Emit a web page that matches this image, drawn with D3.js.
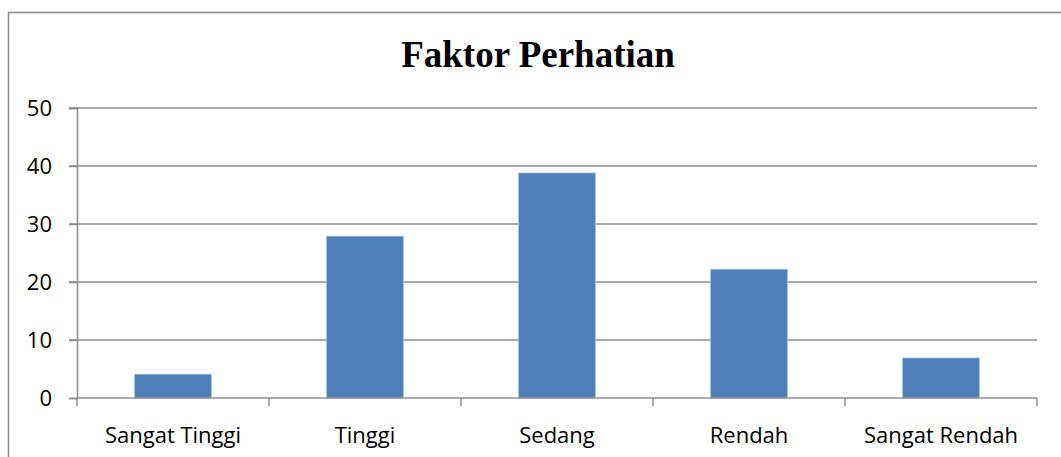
<!DOCTYPE html>
<html>
<head>
<meta charset="utf-8">
<script src="https://cdn.jsdelivr.net/npm/d3@7"></script>
<style>
  body { margin: 0; background: #fff; }
</style>
</head>
<body>
<script>
const categories = ["Sangat Tinggi", "Tinggi", "Sedang", "Rendah", "Sangat Rendah"];
const values = [4.1, 27.9, 38.8, 22.2, 6.9];
const yTicks = [0, 10, 20, 30, 40, 50];
const title = "Faktor Perhatian";

const width = 1061, height = 457;
const margin = { left: 77, right: 24, top: 108, bottom: 59 };

let svg = d3.select("body").append("svg")
  .attr("width", width)
  .attr("height", height);

// chart border (runs off the right and bottom of the picture)
svg.append("rect")
  .attr("x", 8.5).attr("y", 12.5)
  .attr("width", 1070).attr("height", 460)
  .attr("fill", "none")
  .attr("stroke", "#8c8c8c")
  .attr("stroke-width", 1.5);

let x = d3.scaleBand()
  .domain(categories)
  .range([margin.left, width - margin.right])
  .paddingInner(0.6)
  .paddingOuter(0.3);

let y = d3.scaleLinear()
  .domain([0, 50])
  .range([height - margin.bottom, margin.top]);

// gridlines
svg.append("g")
  .selectAll("line")
  .data(yTicks.slice(1))
  .enter().append("line")
  .attr("x1", margin.left - 8)
  .attr("x2", width - margin.right)
  .attr("y1", d => y(d))
  .attr("y2", d => y(d))
  .style("stroke", "#8c8c8c")
  .style("stroke-width", "1.5");

// bars
svg.append("g")
  .selectAll("rect")
  .data(values)
  .enter().append("rect")
  .attr("x", (d, i) => x(categories[i]))
  .attr("width", x.bandwidth())
  .attr("y", d => y(d))
  .attr("height", d => y(0) - y(d))
  .style("fill", "#4f81bd")
  .style("stroke", "#a9c1de")
  .style("stroke-width", "0.8");

// y axis
let yAxis = svg.append("g")
  .attr("transform", `translate(${margin.left},0)`)
  .call(d3.axisLeft(y).tickValues(yTicks).tickSize(8).tickPadding(17));

// x axis with ticks on category boundaries
let xAxis = svg.append("g")
  .attr("transform", `translate(0,${y(0)})`)
  .call(d3.axisBottom(x).tickSize(0).tickPadding(29));

xAxis.selectAll(".bound")
  .data(d3.range(categories.length + 1))
  .enter().append("line")
  .attr("class", "bound")
  .attr("x1", i => margin.left + i * (width - margin.left - margin.right) / categories.length)
  .attr("x2", i => margin.left + i * (width - margin.left - margin.right) / categories.length)
  .attr("y1", 0)
  .attr("y2", 8);

[yAxis, xAxis].forEach(g => {
  g.selectAll("path.domain").attr("stroke", "#8c8c8c").attr("stroke-width", 1.5);
  g.selectAll("line").attr("stroke", "#8c8c8c").attr("stroke-width", 1.5);
  g.selectAll("text")
    .style("font-family", "'Open Sans', sans-serif")
    .style("font-size", "22px")
    .attr("fill", "#000");
});
xAxis.select("path.domain").attr("d", `M${margin.left},0H${width - margin.right}`);

// title
svg.append("text")
  .attr("x", 538)
  .attr("y", 67)
  .attr("text-anchor", "middle")
  .style("font-family", "'Liberation Serif', 'Times New Roman', serif")
  .style("font-weight", "bold")
  .style("font-size", "37px")
  .text(title);
</script>
</body>
</html>
